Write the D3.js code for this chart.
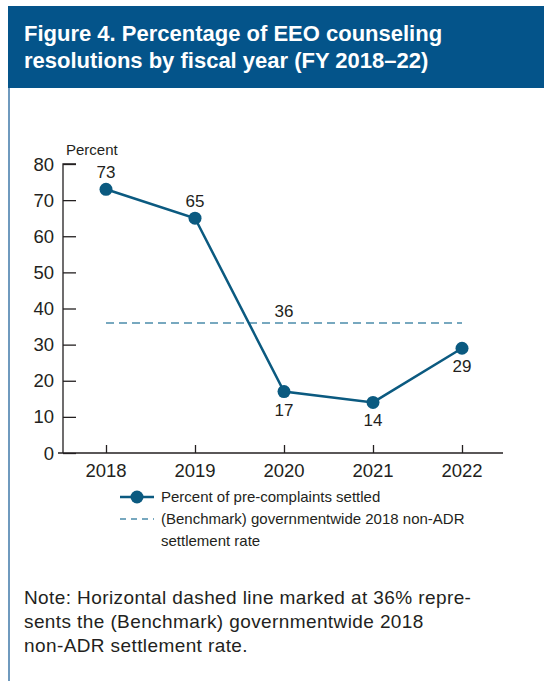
<!DOCTYPE html>
<html>
<head>
<meta charset="utf-8">
<script src="https://cdn.jsdelivr.net/npm/d3@7"></script>
<style>
  html, body { margin: 0; padding: 0; background: #fff; }
  svg { display: block; font-family: "Liberation Sans", Arial, sans-serif; }
</style>
</head>
<body>
<svg id="chart" width="544" height="681"></svg>
<script>
// Fiscal years and the share of pre-complaints settled in each
const years = ["2018", "2019", "2020", "2021", "2022"];
const settledPct = [73, 65, 17, 14, 29];
const labelSide = ["above", "above", "below", "below", "below"];
const benchmarkPct = 36;
const yTicks = [0, 10, 20, 30, 40, 50, 60, 70, 80];

const titleLines = ["Figure 4. Percentage of EEO counseling", "resolutions by fiscal year (FY 2018\u201322)"];
const legendLabels = ["Percent of pre-complaints settled", "(Benchmark) governmentwide 2018 non-ADR", "settlement rate"];
const noteLines = [
  "Note: Horizontal dashed line marked at 36% repre-",
  "sents the (Benchmark) governmentwide 2018",
  "non-ADR settlement rate."
];

const navy = "#04548a";
const lineColor = "#0b5a80";
const dashColor = "#4b8cab";
const ink = "#231f20";

const svg = d3.select("#chart");

// Title banner
svg.append("rect").attr("x", 8).attr("y", 6).attr("width", 536).attr("height", 82).attr("fill", navy);
svg.append("line").attr("x1", 9).attr("x2", 9).attr("y1", 88).attr("y2", 681)
  .attr("stroke", "#3f78a8").attr("stroke-width", 1.5);
svg.append("g").selectAll("text").data(titleLines).join("text")
  .attr("x", 24).attr("y", (d, i) => 41 + i * 27)
  .attr("fill", "#fff").attr("font-weight", "bold").attr("font-size", 22)
  .text(d => d);

// Scales
const x = d3.scalePoint().domain(years).range([106, 462]);
const y = d3.scaleLinear().domain([0, 80]).range([453, 164]);

// Y axis: ticks point inward (right)
const yAxis = svg.append("g").attr("transform", "translate(63,0)")
  .call(d3.axisRight(y).tickValues(yTicks).tickSize(13).tickFormat(""));
yAxis.select(".domain").attr("d", `M13,${y(80)}H0V${y(0)}`);
yAxis.selectAll("line, path").attr("stroke", ink).attr("stroke-width", 1.3);
svg.append("g").selectAll("text").data(yTicks).join("text")
  .attr("x", 54).attr("y", d => y(d) + 6.5)
  .attr("text-anchor", "end").attr("font-size", 18.5).attr("fill", ink)
  .text(d => d);
svg.append("text").attr("x", 66).attr("y", 155).attr("font-size", 15).attr("fill", ink)
  .text("Percent");

// X axis: ticks point up from baseline
const xAxis = svg.append("g").attr("transform", `translate(0,${y(0)})`)
  .call(d3.axisTop(x).tickSize(8).tickFormat(""));
xAxis.select(".domain").attr("d", "M58,0H503");
xAxis.selectAll("line, path").attr("stroke", ink).attr("stroke-width", 1.3);
svg.append("g").selectAll("text").data(years).join("text")
  .attr("x", d => x(d)).attr("y", 477)
  .attr("text-anchor", "middle").attr("font-size", 18.5).attr("fill", ink)
  .text(d => d);

// Benchmark dashed line
svg.append("line")
  .attr("x1", x(years[0])).attr("x2", x(years[years.length - 1]))
  .attr("y1", y(benchmarkPct)).attr("y2", y(benchmarkPct))
  .attr("stroke", dashColor).attr("stroke-width", 1.6).attr("stroke-dasharray", "8,5");
svg.append("text").attr("x", x("2020")).attr("y", y(benchmarkPct) - 6)
  .attr("text-anchor", "middle").attr("font-size", 17).attr("fill", ink)
  .text(benchmarkPct);

// Settlement series
const pts = years.map((yr, i) => ({ yr, v: settledPct[i], side: labelSide[i] }));
svg.append("path").datum(pts)
  .attr("d", d3.line().x(d => x(d.yr)).y(d => y(d.v)))
  .attr("fill", "none").attr("stroke", lineColor).attr("stroke-width", 2.5);
svg.append("g").selectAll("circle").data(pts).join("circle")
  .attr("cx", d => x(d.yr)).attr("cy", d => y(d.v)).attr("r", 6.5).attr("fill", lineColor);
svg.append("g").selectAll("text").data(pts).join("text")
  .attr("x", d => x(d.yr)).attr("y", d => d.side === "above" ? y(d.v) - 11 : y(d.v) + 24)
  .attr("text-anchor", "middle").attr("font-size", 17).attr("fill", ink)
  .text(d => d.v);

// Legend
const lg = svg.append("g");
lg.append("line").attr("x1", 120).attr("x2", 154).attr("y1", 497).attr("y2", 497)
  .attr("stroke", lineColor).attr("stroke-width", 2.5);
lg.append("circle").attr("cx", 137).attr("cy", 497).attr("r", 6.5).attr("fill", lineColor);
lg.append("line").attr("x1", 120).attr("x2", 154).attr("y1", 519).attr("y2", 519)
  .attr("stroke", dashColor).attr("stroke-width", 1.6).attr("stroke-dasharray", "6,5");
lg.selectAll("text").data(legendLabels).join("text")
  .attr("x", 161).attr("y", (d, i) => 502 + i * 22)
  .attr("font-size", 15).attr("fill", ink)
  .text(d => d);

// Note
svg.append("g").selectAll("text").data(noteLines).join("text")
  .attr("x", 24).attr("y", (d, i) => 604 + i * 24)
  .attr("font-size", 19).attr("letter-spacing", 0.4).attr("fill", ink)
  .text(d => d);
</script>
</body>
</html>
